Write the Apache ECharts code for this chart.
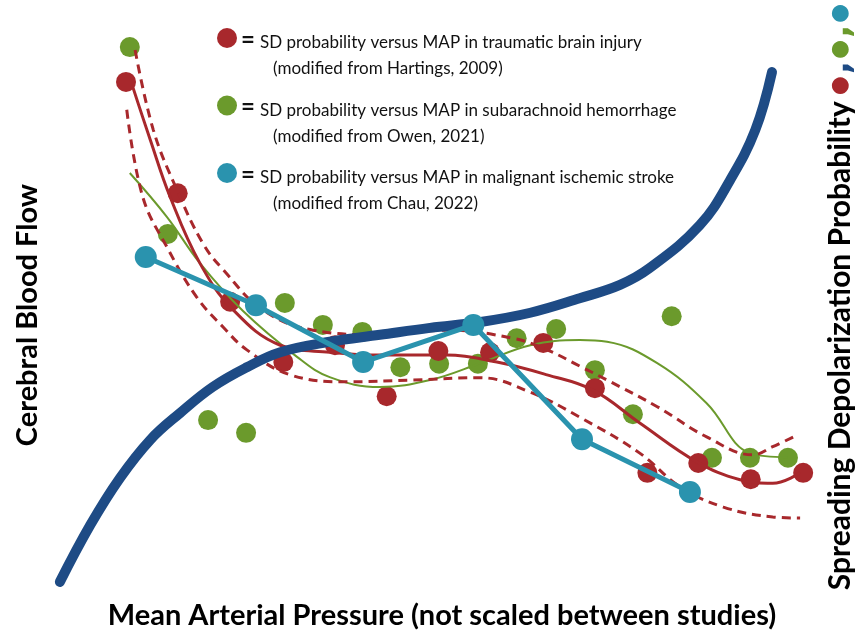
<!DOCTYPE html>
<html>
<head>
<meta charset="utf-8">
<script src="https://cdn.jsdelivr.net/npm/echarts@6/dist/echarts.min.js"></script>
<style>html,body{margin:0;padding:0;background:#fff;}#c{width:856px;height:633px;}</style>
</head>
<body>
<div id="c"></div>
<script>
// Conceptual figure: axes are unscaled (0-100 arbitrary units)
var tbiPoints = [[10.0,87.6],[16.8,68.4],[23.7,49.7],[30.7,39.3],[37.5,42.2],[44.3,33.4],[51.1,41.2],[57.9,41.0],[64.9,42.6],[71.7,34.8],[78.6,20.2],[85.3,21.9],[92.2,19.1],[99.1,20.2]];
var tbiFit = [[10.9,86.7],[13.2,77.6],[15.8,67.8],[19.7,56.4],[24.1,48.3],[30.3,42.2],[36.8,41.0],[43.4,40.5],[52.2,40.5],[58.8,39.3],[65.4,37.1],[71.4,34.5],[77.6,28.8],[85.1,22.1],[90.8,19.0],[95.1,18.4],[98.7,20.2]];
var tbiUpper = [[11.2,93.1],[13.6,79.3],[16.7,69.0],[20.1,59.8],[22.8,55.2],[28.0,48.3],[34.6,44.8],[43.4,44.0],[52.2,44.8],[60.9,43.4],[65.4,41.4],[69.7,38.6],[73.3,36.2],[79.9,31.6],[86.4,26.4],[92.5,23.3],[95.1,24.7],[98.3,26.7]];
var tbiLower = [[10.1,82.8],[12.2,67.8],[15.4,59.1],[19.3,50.5],[22.8,45.3],[25.9,41.4],[31.6,37.1],[39.1,35.9],[47.8,36.2],[56.6,36.6],[63.2,34.1],[69.7,29.8],[77.6,23.6],[82.9,17.8],[88.6,14.3],[95.1,12.6],[98.7,12.4]];
var sahPoints = [[10.5,93.6],[15.5,61.4],[20.8,29.3],[25.8,27.1],[30.9,49.5],[35.9,45.7],[41.1,44.5],[46.1,38.4],[51.2,39.0],[56.3,39.0],[61.4,43.4],[66.6,45.0],[71.7,37.9],[76.7,30.3],[81.8,47.2],[87.1,22.8],[92.1,22.8],[97.1,22.8]];
var sahFit = [[10.5,71.9],[15.4,64.3],[19.7,56.4],[25.4,48.1],[32.5,40.2],[36.8,36.7],[43.4,35.0],[50.0,36.2],[56.6,39.1],[63.2,42.2],[69.7,43.1],[73.3,42.8],[79.9,39.1],[86.4,32.2],[92.1,23.6],[97.0,22.9]];
var strokePoints = [[12.6,57.4],[27.1,49.1],[41.2,39.3],[55.7,45.7],[70.0,26.0],[84.2,16.9]];
var cbfCurve = [[1.3,1.4],[5.3,11.2],[9.2,19.3],[13.2,25.9],[17.1,30.5],[21.4,35.0],[25.9,38.4],[30.3,41.0],[36.8,42.8],[43.4,44.0],[50.0,45.2],[56.6,46.2],[63.2,47.8],[69.7,50.3],[75.0,52.6],[78.9,55.5],[85.5,62.9],[89.5,70.7],[92.8,79.3],[95.0,89.3]];

var legendLines = [
  ['SD probability versus MAP in traumatic brain injury', '(modified from Hartings, 2009)'],
  ['SD probability versus MAP in subarachnoid hemorrhage', '(modified from Owen, 2021)'],
  ['SD probability versus MAP in malignant ischemic stroke', '(modified from Chau, 2022)']
];
var xTitle = 'Mean Arterial Pressure (not scaled between studies)';
var yLeftTitle = 'Cerebral Blood Flow';
var yRightTitle = 'Spreading Depolarization Probability';

var RED = '#a8282c', GREEN = '#6b9a2c', TEAL = '#2a93ae', NAVY = '#1e4b85';
var legendColors = [RED, GREEN, TEAL];
var FONT = 'Lato, "Open Sans", sans-serif';

var graphics = [];
legendLines.forEach(function (l, i) {
  var cy = 38 + i * 67.5;
  graphics.push({type:'circle', shape:{cx:227, cy:cy, r:10}, style:{fill:legendColors[i]}, z:10});
  graphics.push({type:'text', x:241, y:cy + 2, style:{text:'=', font:'bold 24px ' + FONT, fill:'#111', textVerticalAlign:'middle'}, z:10});
  graphics.push({type:'text', x:260, y:cy + 5, style:{text:l[0], font:'17px ' + FONT, fill:'#111', textVerticalAlign:'middle'}, z:10});
  graphics.push({type:'text', x:273, y:cy + 31, style:{text:l[1], font:'17px ' + FONT, fill:'#111', textVerticalAlign:'middle'}, z:10});
});
graphics.push({type:'text', x:442, y:616, style:{text:xTitle, font:'bold 29px ' + FONT, fill:'#000', textAlign:'center', textVerticalAlign:'middle'}});
graphics.push({type:'text', x:28, y:315, rotation:Math.PI/2, style:{text:yLeftTitle, font:'bold 29px ' + FONT, fill:'#000', textAlign:'center', textVerticalAlign:'middle'}});
graphics.push({type:'text', x:840, y:297, rotation:Math.PI/2, style:{
  text:'{t|' + yRightTitle + '}{r|●}{c1|,}{g|●}{c2|,}{b|●}',
  textAlign:'center', textVerticalAlign:'middle',
  rich:{
    t:{font:'bold 30px ' + FONT, fill:'#000'},
    r:{font:'22px "DejaVu Sans"', fill:RED, padding:[0,0,0,6]},
    c1:{font:'bold 34px "DejaVu Sans"', fill:NAVY, padding:[0,2,0,2]},
    g:{font:'22px "DejaVu Sans"', fill:GREEN},
    c2:{font:'bold 34px "DejaVu Sans"', fill:GREEN, padding:[0,2,0,2]},
    b:{font:'22px "DejaVu Sans"', fill:TEAL}
  }
}});

var chart = echarts.init(document.getElementById('c'), null, {renderer:'canvas'});
var hiddenAxis = {type:'value', min:0, max:100, show:false};
chart.setOption({
  animation:false,
  backgroundColor:'#fff',
  grid:{left:50, right:46, top:10, bottom:43},
  xAxis:hiddenAxis,
  yAxis:hiddenAxis,
  series:[
    {type:'scatter', data:sahPoints, symbolSize:20, itemStyle:{color:GREEN, opacity:1}, z:2},
    {type:'scatter', data:tbiPoints, symbolSize:20, itemStyle:{color:RED, opacity:1}, z:3},
    {type:'line', data:sahFit, smooth:0.4, showSymbol:false, lineStyle:{color:GREEN, width:2}, z:4},
    {type:'line', data:tbiFit, smooth:0.4, showSymbol:false, lineStyle:{color:RED, width:3}, z:5},
    {type:'line', data:tbiUpper, smooth:0.4, showSymbol:false, lineStyle:{color:RED, width:3, type:[9,6]}, z:5},
    {type:'line', data:tbiLower, smooth:0.4, showSymbol:false, lineStyle:{color:RED, width:3, type:[9,6]}, z:5},
    {type:'line', data:cbfCurve, smooth:0.4, showSymbol:false, lineStyle:{color:NAVY, width:10, cap:'round'}, z:6},
    {type:'line', data:strokePoints, symbol:'circle', symbolSize:22, showSymbol:true, itemStyle:{color:TEAL, opacity:1}, lineStyle:{color:TEAL, width:5}, z:7}
  ],
  graphic:graphics
});
</script>
</body>
</html>
